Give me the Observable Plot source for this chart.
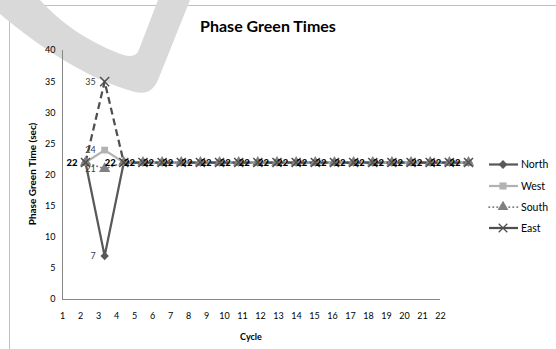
<!DOCTYPE html>
<html><head><meta charset="utf-8">
<script src="https://cdn.jsdelivr.net/npm/d3@7"></script>
<script src="https://cdn.jsdelivr.net/npm/@observablehq/plot@0.6"></script>
<style>
body{margin:0;background:#fff;}
#chart{position:relative;width:556px;height:349px;overflow:hidden;font-family:Lato,"Open Sans",sans-serif;background:#fff;}
#chart > svg{position:absolute;left:0;top:0;overflow:visible;}
</style></head><body><div id="chart"></div>
<script>
// ---- data ----
const cycles = [2,3,4,5,6,7,8,9,10,11,12,13,14,15,16,17,18,19,20,21,22];
const xTickLabels = [1,2,3,4,5,6,7,8,9,10,11,12,13,14,15,16,17,18,19,20,21,22];
const yTicks = [0,5,10,15,20,25,30,35,40];
const north = [22,7,22,22,22,22,22,22,22,22,22,22,22,22,22,22,22,22,22,22,22];
const west  = [22,24,22,22,22,22,22,22,22,22,22,22,22,22,22,22,22,22,22,22,22];
const south = [22,21,22,22,22,22,22,22,22,22,22,22,22,22,22,22,22,22,22,22,22];
const east  = [22,35,22,22,22,22,22,22,22,22,22,22,22,22,22,22,22,22,22,22,22];
const seriesNames = ["North","West","South","East"];
const seriesValues = [north, west, south, east];
const title = "Phase Green Times";
const yTitle = "Phase Green Time (sec)";
const xTitle = "Cycle";

const styles = {
  North:{color:"#595959", dash:null, symbol:"diamond2", width:2.25},
  West:{color:"#b2b2b2", dash:null, symbol:"square", width:2.25},
  South:{color:"#808080", dash:"0.5,3.5", symbol:"triangle", width:1.75},
  East:{color:"#4f4f4f", dash:"7,4", symbol:"times", width:2.25}
};

const rows = [];
seriesNames.forEach((s,i)=>cycles.forEach((c,j)=>rows.push({series:s, cycle:c, value:seriesValues[i][j]})));

const W = 556, H = 349;
const root = document.getElementById("chart");

// ---- background: frame + watermark + titles ----
const bg = d3.create("svg").attr("width",W).attr("height",H);
bg.append("line").attr("x1",10).attr("y1",5.5).attr("x2",W).attr("y2",5.5).attr("stroke","#bfbfbf");
bg.append("line").attr("x1",9.5).attr("y1",5).attr("x2",9.5).attr("y2",H).attr("stroke","#bfbfbf");
bg.append("path")
  .attr("d","M0,0 L0,14 C40,48 90,80 135,92 C150,95 155,88 160,75 L190,0 L158,0 L138,52 C134,57 128,57 118,53 C85,40 60,22 40,0 Z")
  .attr("fill","#d9d9d9");
bg.append("text").attr("x",268).attr("y",32).attr("text-anchor","middle")
  .attr("font-size",16).attr("font-weight","bold").attr("fill","#000").text(title);
bg.append("text").attr("transform","translate(36,174) rotate(-90)").attr("text-anchor","middle")
  .attr("font-size",10).attr("font-weight","bold").attr("fill","#000").text(yTitle);
bg.append("text").attr("x",251).attr("y",340).attr("text-anchor","middle")
  .attr("font-size",9).attr("font-weight","bold").attr("fill","#000").text(xTitle);
root.appendChild(bg.node());

// ---- axes plot (frame: x 62..440, y 50..299) ----
const axes = Plot.plot({
  width:W, height:H,
  marginLeft:62, marginRight:W-440, marginTop:50, marginBottom:H-299,
  style:{background:"transparent", fontFamily:"Lato, 'Open Sans', sans-serif"},
  x:{domain:[1,22]},
  y:{domain:[0,40]},
  marks:[
    Plot.axisY(yTicks,{tickSize:0, tickPadding:7, fontSize:9, fill:"#000", label:null}),
    Plot.axisX(xTickLabels,{tickSize:0, tickPadding:13, fontSize:9, fill:"#000", label:null}),
    Plot.ruleY([0],{stroke:"#868686", strokeWidth:1}),
    Plot.ruleX([1],{stroke:"#868686", strokeWidth:1})
  ]
});
root.appendChild(axes);

// ---- data plot (cycle 2..22 drawn over x 85..468) ----
const marks = [];
seriesNames.forEach(s=>{
  const st = styles[s];
  const d = rows.filter(r=>r.series===s);
  marks.push(Plot.line(d,{x:"cycle", y:"value", stroke:st.color, strokeWidth:st.width, strokeDasharray:st.dash, strokeLinecap: s==="South" ? "round" : "butt"}));
});
seriesNames.forEach(s=>{
  const st = styles[s];
  const d = rows.filter(r=>r.series===s);
  if (st.symbol === "times")
    marks.push(Plot.dot(d,{x:"cycle", y:"value", symbol:"times", stroke:st.color, strokeWidth:1.5, r:4.2}));
  else
    marks.push(Plot.dot(d,{x:"cycle", y:"value", symbol:st.symbol, fill:st.color, stroke:"none", r:st.symbol==="triangle"?4.2:3.8}));
});
marks.push(Plot.text(rows.filter(r=>r.value!==22),{x:"cycle", y:"value", text:d=>String(d.value), textAnchor:"end", dx:-9, fontSize:9, fill:"#404040"}));
marks.push(Plot.text(rows.filter(r=>r.value===22 && r.series==="East"),{x:"cycle", y:"value", text:d=>String(d.value), textAnchor:"end", dx:-8, fontSize:9.5, fontWeight:"900", fill:"#000"}));

const dataPlot = Plot.plot({
  width:W, height:H,
  marginLeft:85, marginRight:W-468, marginTop:50, marginBottom:H-299,
  style:{background:"transparent", fontFamily:"Lato, 'Open Sans', sans-serif", overflow:"visible"},
  x:{domain:[2,22], axis:null},
  y:{domain:[0,40], axis:null},
  marks
});
root.appendChild(dataPlot);

// ---- legend ----
const lg = d3.create("svg").attr("width",W).attr("height",H);
const legY = [164.5,186,207,228];
const symMap = {diamond2:d3.symbolDiamond2, square:d3.symbolSquare, triangle:d3.symbolTriangle, times:d3.symbolTimes};
seriesNames.forEach((s,i)=>{
  const st = styles[s];
  const g = lg.append("g").attr("transform",`translate(0,${legY[i]})`);
  g.append("line").attr("x1",489).attr("x2",518).attr("y1",0).attr("y2",0)
    .attr("stroke",st.color).attr("stroke-width",st.width)
    .attr("stroke-dasharray", s==="South" ? st.dash : null)
    .attr("stroke-linecap", s==="South" ? "round" : "butt");
  const p = d3.symbol(symMap[st.symbol], Math.PI*16)();
  if (st.symbol==="times")
    g.append("path").attr("d",p).attr("transform","translate(503,0)").attr("fill","#fff").attr("stroke",st.color).attr("stroke-width",1.3);
  else
    g.append("path").attr("d",p).attr("transform","translate(503,0)").attr("fill",st.color);
  g.append("text").attr("x",521).attr("y",0).attr("dy","0.35em").attr("font-size",10.5).attr("fill","#000").text(s);
});
root.appendChild(lg.node());
</script></body></html>
